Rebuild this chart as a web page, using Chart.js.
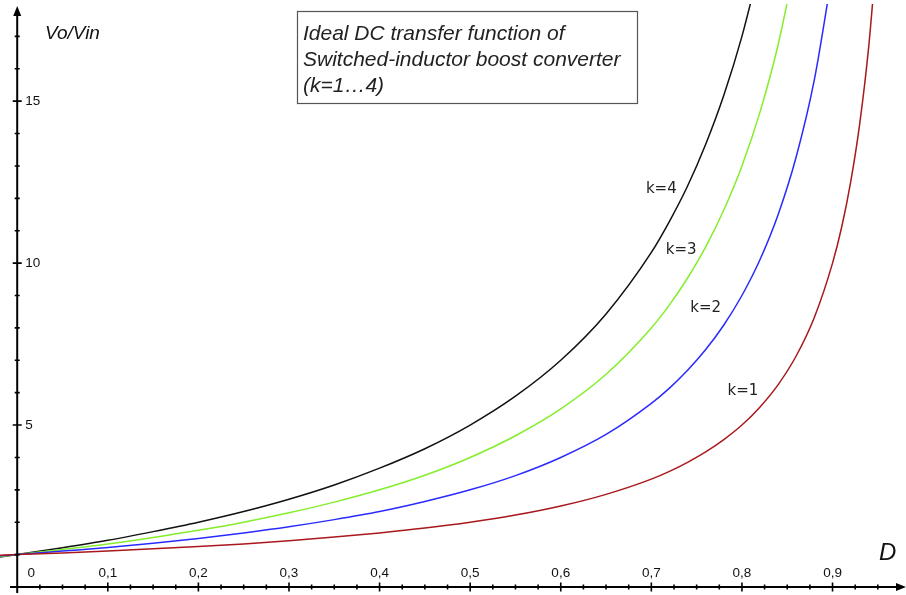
<!DOCTYPE html>
<html>
<head>
<meta charset="utf-8">
<script src="https://cdn.jsdelivr.net/npm/chart.js@4"></script>
<style>
  html, body { margin: 0; padding: 0; background: #fff; }
  #wrap { width: 906px; height: 595px; position: relative; }
</style>
</head>
<body>
<div id="wrap"><canvas id="chart"></canvas></div>
<script>
// duty cycle D (x) and Vo/Vin for k = 1..4
const dValues = [-0.02, 0, 0.05, 0.1, 0.15, 0.2, 0.25, 0.3, 0.35, 0.4, 0.45, 0.5, 0.55, 0.6, 0.65, 0.7,
  0.72, 0.74, 0.76, 0.78, 0.8, 0.82, 0.84, 0.86, 0.88, 0.9, 0.91, 0.92, 0.93, 0.94, 0.95];
const k1 = [0.98, 1.00, 1.05, 1.11, 1.18, 1.25, 1.33, 1.43, 1.54, 1.67, 1.82, 2.00, 2.22, 2.50, 2.86, 3.33,
  3.57, 3.85, 4.17, 4.55, 5.00, 5.56, 6.25, 7.14, 8.33, 10.0, 11.1, 12.5, 14.3, 16.7, 20.0];
const k2 = [0.96, 1.00, 1.11, 1.22, 1.35, 1.50, 1.67, 1.86, 2.08, 2.33, 2.64, 3.00, 3.44, 4.00, 4.71, 5.67,
  6.14, 6.69, 7.33, 8.09, 9.00, 10.11, 11.5, 13.29, 15.67, 19.0];
const k3 = [0.94, 1.00, 1.16, 1.33, 1.53, 1.75, 2.00, 2.29, 2.62, 3.00, 3.45, 4.00, 4.67, 5.50, 6.57, 8.00,
  8.71, 9.54, 10.5, 11.64, 13.0, 14.67, 16.75, 19.43];
const k4 = [0.92, 1.00, 1.21, 1.44, 1.71, 2.00, 2.33, 2.71, 3.15, 3.67, 4.27, 5.00, 5.89, 7.00, 8.43, 10.33,
  11.29, 12.38, 13.67, 15.18, 17.0, 19.22];

const seriesNames = ['k=1', 'k=2', 'k=3', 'k=4'];
const xTickValues = [0, 0.1, 0.2, 0.3, 0.4, 0.5, 0.6, 0.7, 0.8, 0.9];
const xTickLabels = ['0', '0,1', '0,2', '0,3', '0,4', '0,5', '0,6', '0,7', '0,8', '0,9'];
const yTickValues = [5, 10, 15];
const yTickLabels = ['5', '10', '15'];
const titleLines = ['Ideal DC transfer function of', 'Switched-inductor boost converter', '(k=1\u20264)'];

const colors = ['#a8181c', '#2a2aff', '#84ee2c', '#111111'];

const toPoints = arr => arr.map((v, i) => ({ x: dValues[i], y: v }));

const axesPlugin = {
  id: 'axes',
  afterDatasetsDraw(chart) {
    const { ctx, scales: { x, y } } = chart;
    const x0 = x.getPixelForValue(0);
    const y0 = y.getPixelForValue(0);
    ctx.save();
    ctx.strokeStyle = '#000';
    ctx.fillStyle = '#000';
    ctx.lineWidth = 2;

    // axis lines
    ctx.beginPath();
    ctx.moveTo(x0, 593); ctx.lineTo(x0, 12);
    ctx.moveTo(10, y0); ctx.lineTo(900, y0);
    ctx.stroke();
    // arrow heads
    ctx.beginPath();
    ctx.moveTo(x0, 6); ctx.lineTo(x0 - 4, 16); ctx.lineTo(x0 + 4, 16); ctx.closePath();
    ctx.fill();
    ctx.beginPath();
    ctx.moveTo(906, y0); ctx.lineTo(896, y0 - 4); ctx.lineTo(896, y0 + 4); ctx.closePath();
    ctx.fill();

    // x ticks, minor every 0.025
    ctx.lineWidth = 1.6;
    ctx.beginPath();
    for (let i = 1; i <= 38; i++) {
      const px = x.getPixelForValue(i * 0.025);
      const h = i % 4 === 0 ? 4.5 : 2.5;
      ctx.moveTo(px, y0 - h); ctx.lineTo(px, y0 + h);
    }
    // y ticks, minor every 1
    for (let v = 1; v <= 17; v++) {
      const py = y.getPixelForValue(v);
      const w = v % 5 === 0 ? 4.5 : 2.5;
      ctx.moveTo(x0 - w, py); ctx.lineTo(x0 + w, py);
    }
    ctx.stroke();

    // tick labels
    ctx.font = '13.5px "Liberation Sans", Arial, sans-serif';
    ctx.fillStyle = '#111';
    ctx.textAlign = 'center';
    ctx.textBaseline = 'middle';
    xTickValues.forEach((v, i) => {
      const px = x.getPixelForValue(v) + (i === 0 ? 14 : 0);
      ctx.fillText(xTickLabels[i], px, 573);
    });
    ctx.textAlign = 'left';
    yTickValues.forEach((v, i) => {
      ctx.fillText(yTickLabels[i], x0 + 8, y.getPixelForValue(v));
    });

    // axis titles
    ctx.font = 'italic 19px "Liberation Sans", Arial, sans-serif';
    ctx.fillText('Vo/Vin', 45, 34);
    ctx.font = 'italic 24px "Liberation Sans", Arial, sans-serif';
    ctx.fillText('D', 879, 553);

    // curve labels
    const labelAt = [[0.801, 6.05], [0.760, 8.6], [0.733, 10.4], [0.711, 12.3]];
    ctx.font = '15px "DejaVu Sans", sans-serif';
    ctx.fillStyle = '#222';
    ctx.textAlign = 'center';
    seriesNames.forEach((n, i) => {
      ctx.fillText(n, x.getPixelForValue(labelAt[i][0]), y.getPixelForValue(labelAt[i][1]));
    });

    // title box
    ctx.fillStyle = '#fff';
    ctx.fillRect(297, 11, 340, 92);
    ctx.strokeStyle = '#555';
    ctx.lineWidth = 1.2;
    ctx.strokeRect(297.5, 11.5, 340, 92);
    ctx.fillStyle = '#222';
    ctx.textAlign = 'left';
    ctx.textBaseline = 'alphabetic';
    ctx.font = 'italic 21px "Liberation Sans", Arial, sans-serif';
    titleLines.forEach((t, i) => ctx.fillText(t, 303, 40 + i * 26));
    ctx.restore();
  }
};

new Chart(document.getElementById('chart'), {
  type: 'line',
  data: {
    datasets: [k1, k2, k3, k4].map((arr, i) => ({
      label: seriesNames[i],
      data: toPoints(arr),
      borderColor: colors[i],
      borderWidth: 1.5,
      pointRadius: 0,
      cubicInterpolationMode: 'monotone',
      fill: false
    }))
  },
  options: {
    responsive: true,
    maintainAspectRatio: false,
    animation: false,
    layout: { padding: { left: 0, right: 1, top: 4, bottom: 8 } },
    plugins: { legend: { display: false }, tooltip: { enabled: false } },
    scales: {
      x: { type: 'linear', min: -0.019, max: 0.98, display: false },
      y: { type: 'linear', min: 0, max: 18, display: false }
    }
  },
  plugins: [axesPlugin]
});
</script>
</body>
</html>
